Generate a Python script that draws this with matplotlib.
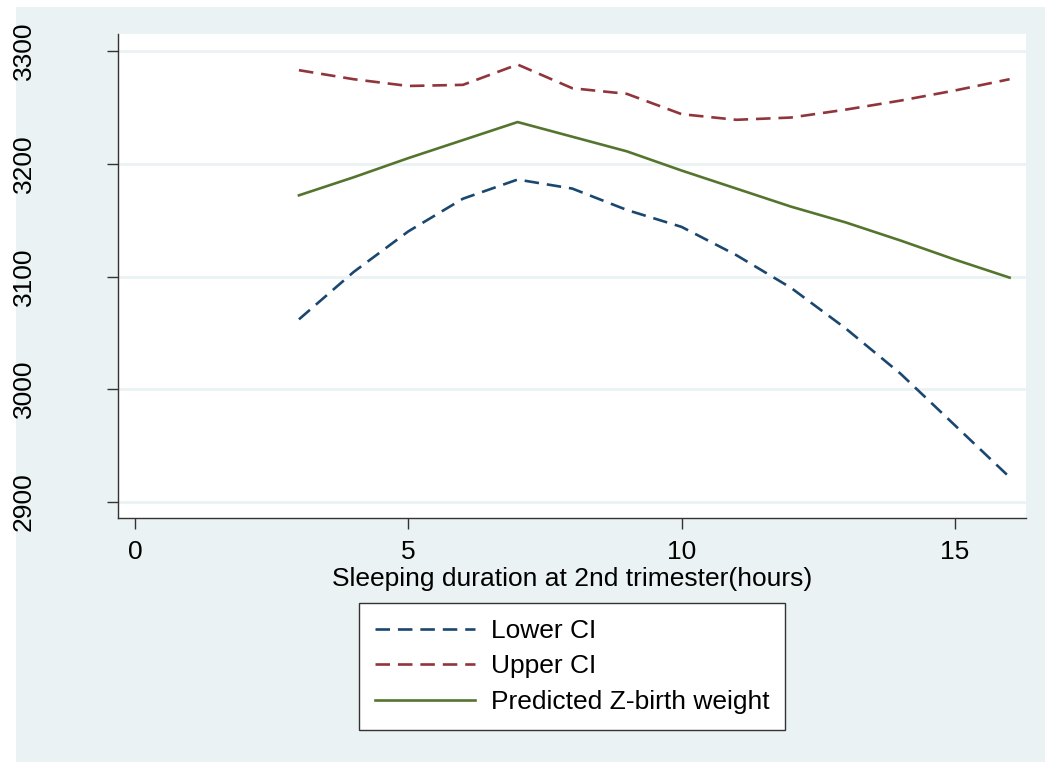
import matplotlib.pyplot as plt
from matplotlib.patches import Rectangle

plt.rcParams['font.family'] = ['Liberation Sans', 'DejaVu Sans']

hours = [3, 4, 5, 6, 7, 8, 9, 10, 11, 12, 13, 14, 15, 16]
lower_ci = [3062, 3104, 3140, 3169, 3186, 3178, 3159, 3144, 3119, 3090, 3054, 3014, 2968, 2922]
upper_ci = [3283, 3275, 3269, 3270, 3288, 3267, 3262, 3244, 3239, 3241, 3248, 3256, 3265, 3275]
predicted = [3172, 3188, 3205, 3221, 3237, 3224, 3211, 3194, 3178, 3162, 3148, 3132, 3115, 3099]

navy = "#1A476F"
maroon = "#90353B"
green = "#55752F"
bg = "#EAF2F3"

fig = plt.figure(figsize=(10.45, 7.62), dpi=100, facecolor="white")
# light bluish graph region, offset like the original export
fig.patches.append(Rectangle((16 / 1045, 0), 1 - 16 / 1045, 1 - 7 / 762,
                             transform=fig.transFigure, facecolor=bg,
                             edgecolor="none", zorder=-10))

ax = fig.add_axes([118 / 1045, 1 - 518 / 762, (1026 - 118) / 1045, (518 - 34) / 762])
ax.set_zorder(1)
ax.set_facecolor("white")

ax.plot(hours, lower_ci, color=navy, lw=1.9, dashes=(5.5, 3.0), label="Lower CI")
ax.plot(hours, upper_ci, color=maroon, lw=1.9, dashes=(5.5, 3.0), label="Upper CI")
ax.plot(hours, predicted, color=green, lw=1.9, label="Predicted Z-birth weight")

ax.set_xlim(-0.31, 16.30)
ax.set_ylim(2885.8, 3315.1)
ax.set_xticks([0, 5, 10, 15])
ax.set_yticks([2900, 3000, 3100, 3200, 3300])
ax.yaxis.grid(True, color=bg, lw=2)
ax.set_axisbelow(True)

for side in ["top", "right"]:
    ax.spines[side].set_visible(False)
for side in ["left", "bottom"]:
    ax.spines[side].set_color("#333333")
    ax.spines[side].set_linewidth(1.0)

ax.tick_params(axis="both", length=8, width=1.0, color="#333333", labelsize=19)
ax.tick_params(axis="x", pad=8)
for lab in ax.get_yticklabels():
    lab.set_rotation(90)
    lab.set_va("center")
ax.tick_params(axis="y", pad=51)

ax.set_xlabel("Sleeping duration at 2nd trimester(hours)", fontsize=19, labelpad=2)

leg = fig.legend(loc="upper center", bbox_to_anchor=(572 / 1045, 1 - 603 / 762),
                 fontsize=19, frameon=True, fancybox=False, framealpha=1,
                 handlelength=3.8, handletextpad=0.6, labelspacing=0.44,
                 borderpad=0.6, borderaxespad=0)
leg.get_frame().set_edgecolor("#333333")
leg.get_frame().set_linewidth(1.0)

fig.savefig("out.png", dpi=100, facecolor="white")
